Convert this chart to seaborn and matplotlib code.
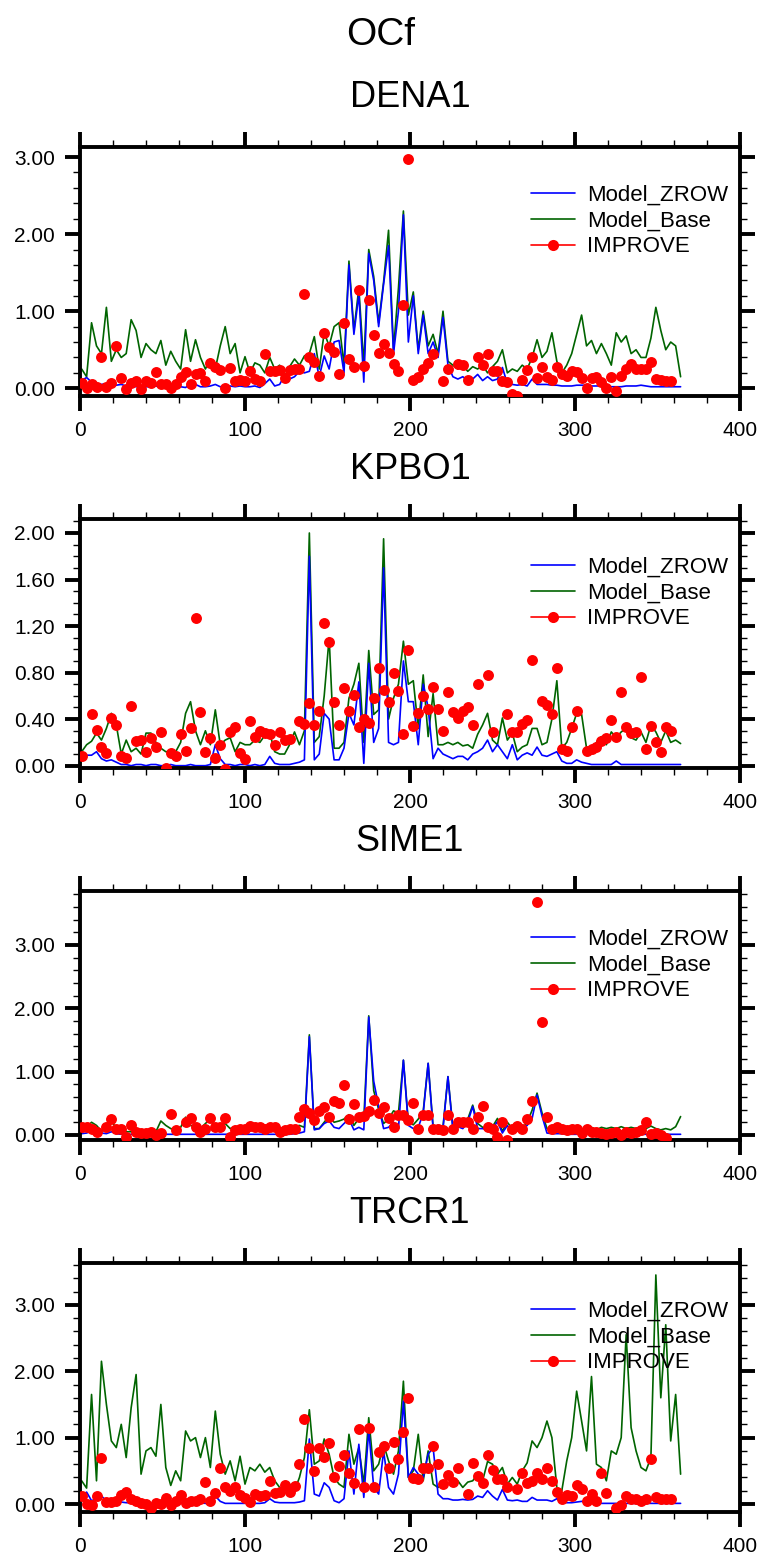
import numpy as np
import matplotlib
matplotlib.use("Agg")
import matplotlib.pyplot as plt
import seaborn as sns
from matplotlib.lines import Line2D
from matplotlib.ticker import MultipleLocator, FormatStrFormatter

# day grid (every 3rd day of the year)
days = np.arange(1, 366, 3)
nan = np.nan

sites = ["DENA1", "KPBO1", "SIME1", "TRCR1"]

dena_base = [
    0.25, 0.15, 0.85, 0.55, 0.45, 1.05, 0.35, 0.50, 0.40, 0.45,
    0.89, 0.75, 0.40, 0.58, 0.50, 0.45, 0.62, 0.30, 0.48, 0.35,
    0.25, 0.76, 0.35, 0.63, 0.40, 0.25, 0.38, 0.25, 0.55, 0.80,
    0.45, 0.58, 0.20, 0.41, 0.20, 0.33, 0.30, 0.20, 0.40, 0.25,
    0.30, 0.15, 0.28, 0.38, 0.30, 0.42, 0.45, 0.67, 0.25, 0.72,
    0.55, 0.80, 0.85, 0.30, 1.65, 0.75, 1.30, 0.30, 1.80, 1.45,
    0.85, 1.38, 2.05, 0.50, 1.30, 2.30, 0.95, 1.25, 0.50, 1.00,
    0.55, 0.70, 0.45, 1.00, 0.35, 0.30, 0.25, 0.30, 0.22, 0.28,
    0.25, 0.30, 0.20, 0.28, 0.35, 0.50, 0.20, 0.25, 0.22, 0.30,
    0.25, 0.40, 0.63, 0.40, 0.48, 0.72, 0.35, 0.20, 0.30, 0.45,
    0.70, 0.95, 0.55, 0.62, 0.45, 0.58, 0.45, 0.30, 0.72, 0.60,
    0.68, 0.45, 0.50, 0.40, 0.40, 0.65, 1.05, 0.75, 0.50, 0.60,
    0.55, 0.15]
dena_zrow = [
    0.10, 0.14, 0.08, 0.06, 0.05, 0.06, 0.04, 0.04, 0.05, 0.03,
    0.03, 0.02, 0.03, 0.02, 0.02, 0.03, 0.02, 0.01, 0.02, 0.01,
    0.02, 0.01, 0.06, 0.05, 0.02, 0.02, 0.03, 0.05, 0.02, 0.02,
    0.03, 0.02, 0.03, 0.02, 0.02, 0.03, 0.01, 0.06, 0.12, 0.03,
    0.05, 0.17, 0.12, 0.15, 0.22, 0.20, 0.22, 0.45, 0.15, 0.42,
    0.25, 0.60, 0.62, 0.20, 1.60, 0.70, 1.22, 0.08, 1.75, 1.40,
    0.80, 1.35, 1.85, 0.45, 1.00, 2.25, 0.60, 1.20, 0.45, 0.95,
    0.45, 0.60, 0.40, 0.92, 0.30, 0.15, 0.12, 0.15, 0.10, 0.12,
    0.18, 0.10, 0.15, 0.10, 0.12, 0.27, 0.06, 0.05, 0.04, 0.05,
    0.03, 0.12, 0.05, 0.05, 0.05, 0.04, 0.04, 0.03, 0.03, 0.03,
    0.04, 0.04, 0.04, 0.03, 0.03, 0.03, 0.02, 0.02, 0.02, 0.02,
    0.03, 0.03, 0.03, 0.04, 0.03, 0.02, 0.02, 0.02, 0.02, 0.02,
    0.02, 0.02]
dena_obs = [
    0.07, 0.01, 0.05, 0.02, 0.41, 0.02, 0.07, 0.55, 0.13, -0.01,
    0.07, 0.09, -0.01, 0.10, 0.07, 0.21, 0.05, 0.05, 0.01, 0.05,
    0.14, 0.21, 0.05, 0.19, 0.20, 0.09, 0.33, 0.27, 0.24, 0.01,
    0.26, 0.09, 0.11, 0.09, 0.22, 0.12, 0.10, 0.45, 0.23, 0.23,
    0.24, 0.13, 0.24, 0.25, 0.25, 1.22, 0.41, 0.34, 0.16, 0.72,
    0.53, 0.47, 0.19, 0.85, 0.38, 0.28, 1.28, 0.29, 1.14, 0.69,
    0.46, 0.57, 0.46, 0.31, 0.23, 1.08, 2.98, 0.11, 0.15, 0.25,
    0.33, 0.45, nan, 0.10, 0.25, nan, 0.31, 0.30, 0.11, nan,
    0.41, 0.30, 0.45, 0.23, 0.23, 0.09, 0.08, -0.08, -0.10, 0.11,
    0.24, 0.41, 0.13, 0.28, 0.14, 0.11, 0.27, 0.18, 0.16, 0.23,
    0.21, 0.13, 0.01, 0.13, 0.14, 0.08, 0.01, 0.14, -0.04, 0.16,
    0.25, 0.31, 0.25, 0.25, 0.25, 0.34, 0.12, 0.11, 0.10, 0.09,
    nan, nan]

kpbo_base = [
    0.12, 0.18, 0.21, 0.28, 0.22, 0.32, 0.45, 0.35, 0.10, 0.22,
    0.12, 0.15, 0.10, 0.28, 0.28, 0.20, 0.15, 0.12, 0.12, 0.12,
    0.20, 0.45, 0.55, 0.30, 0.18, 0.30, 0.18, 0.48, 0.18, 0.22,
    0.24, 0.12, 0.20, 0.18, 0.18, 0.22, 0.20, 0.26, 0.28, 0.12,
    0.10, 0.10, 0.18, 0.29, 0.18, 0.30, 2.00, 0.20, 0.25, 0.60,
    1.10, 0.15, 0.15, 0.20, 0.58, 0.70, 0.88, 0.20, 0.99, 0.44,
    0.48, 1.95, 0.40, 0.58, 0.70, 1.07, 0.70, 0.73, 0.32, 0.78,
    0.25, 0.62, 0.18, 0.18, 0.20, 0.18, 0.20, 0.17, 0.18, 0.15,
    0.27, 0.35, 0.45, 0.22, 0.18, 0.41, 0.22, 0.28, 0.12, 0.16,
    0.18, 0.32, 0.32, 0.18, 0.20, 0.40, 0.73, 0.15, 0.20, 0.32,
    0.45, 0.44, 0.15, 0.15, 0.20, 0.25, 0.18, 0.29, 0.24, 0.29,
    0.32, 0.24, 0.22, 0.29, 0.20, 0.35, 0.29, 0.20, 0.30, 0.20,
    0.22, 0.19]
kpbo_zrow = [
    0.05, 0.09, 0.09, 0.12, 0.06, 0.04, 0.05, 0.03, 0.01, 0.01,
    0.00, 0.01, 0.01, 0.00, 0.01, 0.01, 0.00, 0.00, 0.01, 0.00,
    0.00, 0.00, 0.01, 0.00, 0.00, 0.00, 0.01, 0.18, 0.06, 0.01,
    0.01, 0.00, 0.01, 0.01, 0.00, 0.01, 0.00, 0.01, 0.08, 0.02,
    0.01, 0.01, 0.01, 0.02, 0.03, 0.05, 1.80, 0.05, 0.10, 0.45,
    0.40, 0.05, 0.05, 0.15, 0.45, 0.35, 0.72, 0.02, 0.88, 0.20,
    0.32, 1.70, 0.20, 0.18, 0.20, 0.90, 0.55, 0.55, 0.18, 0.70,
    0.50, 0.06, 0.15, 0.10, 0.08, 0.06, 0.08, 0.08, 0.05, 0.10,
    0.12, 0.15, 0.22, 0.12, 0.18, 0.12, 0.06, 0.18, 0.05, 0.09,
    0.11, 0.09, 0.16, 0.09, 0.08, 0.10, 0.12, 0.04, 0.02, 0.02,
    0.05, 0.03, 0.02, 0.01, 0.01, 0.01, 0.01, 0.01, 0.04, 0.01,
    0.01, 0.01, 0.01, 0.01, 0.01, 0.01, 0.01, 0.01, 0.01, 0.01,
    0.01, 0.01]
kpbo_obs = [
    0.08, nan, 0.44, 0.31, 0.16, 0.11, 0.41, 0.35, 0.08, 0.07,
    0.51, 0.21, 0.22, 0.12, 0.24, 0.16, 0.29, -0.02, 0.11, 0.08,
    0.27, 0.13, 0.32, 1.27, 0.46, 0.12, 0.24, 0.07, 0.18, -0.03,
    0.29, 0.33, 0.11, 0.06, 0.38, 0.25, 0.30, 0.28, 0.27, 0.18,
    0.29, 0.22, 0.23, nan, 0.38, 0.36, 0.54, 0.35, 0.47, 1.23,
    1.06, 0.55, 0.35, 0.67, 0.47, 0.61, 0.33, 0.40, 0.37, 0.58,
    0.84, 0.65, 0.55, 0.80, 0.64, 0.27, 0.99, 0.34, 0.45, 0.60,
    0.49, 0.68, 0.49, 0.30, 0.63, 0.46, 0.41, 0.47, 0.50, 0.35,
    0.70, nan, 0.78, 0.29, nan, nan, 0.44, 0.29, 0.29, 0.36,
    0.39, 0.91, nan, 0.56, 0.52, 0.44, 0.84, 0.14, 0.13, 0.33,
    0.47, nan, 0.13, 0.14, 0.16, 0.21, 0.24, 0.39, 0.25, 0.63,
    0.33, 0.28, 0.29, 0.76, 0.14, 0.34, 0.20, 0.12, 0.33, 0.30,
    nan, nan]

sime_base = [
    0.05, 0.12, 0.20, 0.15, 0.06, 0.10, 0.25, 0.08, 0.06, 0.05,
    0.05, 0.05, 0.03, 0.05, 0.10, 0.05, 0.22, 0.15, 0.10, 0.08,
    0.12, 0.28, 0.15, 0.12, 0.10, 0.18, 0.25, 0.12, 0.15, 0.18,
    0.10, 0.13, 0.12, 0.10, 0.15, 0.13, 0.10, 0.12, 0.13, 0.08,
    0.03, 0.05, 0.10, 0.13, 0.15, 0.12, 1.58, 0.10, 0.10, 0.20,
    0.30, 0.20, 0.22, 0.25, 0.32, 0.15, 0.26, 0.25, 1.88, 0.70,
    0.40, 0.18, 0.25, 0.38, 0.35, 1.18, 0.20, 0.16, 0.25, 0.37,
    1.13, 0.13, 0.15, 0.13, 0.92, 0.12, 0.22, 0.15, 0.25, 0.47,
    0.18, 0.12, 0.10, 0.13, 0.26, 0.06, 0.20, 0.10, 0.16, 0.10,
    0.20, 0.39, 0.66, 0.35, 0.10, 0.10, 0.12, 0.10, 0.08, 0.09,
    0.11, 0.08, 0.10, 0.12, 0.08, 0.12, 0.10, 0.12, 0.10, 0.13,
    0.10, 0.12, 0.10, 0.13, 0.10, 0.14, 0.10, 0.08, 0.10, 0.08,
    0.13, 0.29]
sime_zrow = [
    0.02, 0.03, 0.06, 0.10, 0.03, 0.02, 0.05, 0.02, 0.01, 0.01,
    0.01, 0.01, 0.01, 0.01, 0.01, 0.01, 0.01, 0.01, 0.01, 0.01,
    0.01, 0.01, 0.01, 0.01, 0.01, 0.01, 0.01, 0.01, 0.01, 0.01,
    0.01, 0.01, 0.01, 0.01, 0.01, 0.01, 0.01, 0.01, 0.01, 0.01,
    0.01, 0.01, 0.01, 0.02, 0.03, 0.05, 1.55, 0.08, 0.10, 0.18,
    0.22, 0.12, 0.10, 0.18, 0.25, 0.08, 0.12, 0.08, 1.86, 0.85,
    0.45, 0.10, 0.12, 0.20, 0.10, 1.18, 0.15, 0.10, 0.12, 0.34,
    1.13, 0.10, 0.08, 0.10, 0.92, 0.08, 0.13, 0.10, 0.20, 0.45,
    0.10, 0.10, 0.08, 0.10, 0.21, 0.03, 0.15, 0.03, 0.08, 0.10,
    0.15, 0.26, 0.63, 0.30, 0.03, 0.02, 0.02, 0.02, 0.01, 0.01,
    0.01, 0.01, 0.01, 0.01, 0.01, 0.01, 0.01, 0.01, 0.01, 0.01,
    0.01, 0.01, 0.01, 0.01, 0.01, 0.01, 0.01, 0.01, 0.01, 0.01,
    0.01, 0.01]
sime_obs = [
    0.13, 0.12, 0.10, 0.05, nan, 0.12, 0.25, 0.10, 0.10, -0.03,
    0.16, 0.05, 0.03, 0.03, 0.05, 0.00, 0.03, nan, 0.33, 0.07,
    nan, 0.20, 0.27, 0.13, 0.05, 0.09, 0.27, 0.13, 0.13, 0.26,
    -0.03, 0.08, 0.10, 0.10, 0.14, 0.13, 0.13, 0.10, 0.13, 0.12,
    0.05, 0.08, 0.09, 0.10, 0.28, 0.41, 0.34, 0.24, 0.38, 0.44,
    0.28, 0.53, 0.50, 0.79, 0.25, 0.49, 0.28, 0.30, 0.37, 0.55,
    0.34, 0.44, 0.26, 0.13, 0.31, 0.31, 0.24, 0.50, 0.09, 0.31,
    0.31, 0.10, 0.10, 0.08, 0.31, 0.09, 0.21, 0.21, 0.21, 0.10,
    0.28, 0.46, 0.13, 0.10, -0.03, 0.21, -0.08, 0.10, 0.14, 0.09,
    0.25, 0.53, 3.68, 1.79, 0.29, 0.10, 0.12, 0.10, 0.08, 0.09,
    0.09, 0.03, 0.10, 0.05, 0.04, 0.03, 0.02, 0.03, 0.04, 0.00,
    0.05, 0.03, 0.05, 0.07, 0.21, 0.02, 0.03, 0.00, -0.05, nan,
    nan, nan]

trcr_base = [
    0.35, 0.24, 1.65, 0.35, 2.15, 1.50, 0.95, 0.85, 1.20, 0.70,
    1.45, 1.95, 0.45, 0.80, 0.85, 0.72, 1.50, 0.55, 0.28, 0.50,
    0.35, 1.10, 0.95, 1.00, 0.70, 1.00, 0.55, 1.40, 0.75, 0.45,
    0.65, 0.35, 0.72, 0.30, 0.55, 0.50, 0.60, 0.48, 0.55, 0.35,
    0.25, 0.20, 0.30, 0.20, 0.40, 0.70, 1.42, 0.60, 0.65, 0.98,
    0.75, 0.40, 0.30, 0.25, 1.05, 0.60, 0.85, 0.30, 1.30, 0.50,
    0.60, 0.90, 0.65, 0.45, 0.80, 1.85, 0.40, 0.50, 1.05, 0.35,
    0.80, 0.30, 0.25, 0.30, 0.40, 0.38, 0.35, 0.25, 0.33, 0.35,
    0.45, 0.35, 0.64, 0.60, 0.45, 0.55, 0.30, 0.40, 0.30, 0.50,
    0.62, 0.95, 0.85, 1.00, 1.25, 1.00, 0.25, 0.20, 0.65, 1.00,
    1.70, 1.25, 0.80, 1.92, 0.60, 0.55, 0.35, 0.80, 0.75, 1.00,
    2.55, 1.15, 0.80, 0.55, 0.50, 0.70, 3.45, 1.60, 2.70, 0.95,
    1.65, 0.45]
trcr_zrow = [
    0.08, 0.18, 0.05, 0.08, 0.12, 0.05, 0.06, 0.05, 0.03, 0.02,
    0.02, 0.01, 0.01, 0.01, 0.01, 0.01, 0.01, 0.01, 0.01, 0.01,
    0.02, 0.02, 0.03, 0.03, 0.02, 0.01, 0.02, 0.12, 0.04, 0.01,
    0.01, 0.01, 0.01, 0.01, 0.01, 0.01, 0.01, 0.02, 0.08, 0.03,
    0.02, 0.02, 0.02, 0.02, 0.03, 0.05, 0.98, 0.15, 0.12, 0.32,
    0.25, 0.05, 0.02, 0.08, 0.80, 0.15, 0.90, 0.10, 1.12, 0.25,
    0.15, 0.80, 0.25, 0.15, 0.45, 1.55, 0.40, 0.55, 0.45, 0.40,
    0.75, 0.85, 0.15, 0.08, 0.08, 0.06, 0.06, 0.07, 0.06, 0.07,
    0.12, 0.10, 0.20, 0.12, 0.06, 0.22, 0.06, 0.05, 0.06, 0.04,
    0.04, 0.10, 0.06, 0.06, 0.06, 0.04, 0.08, 0.03, 0.02, 0.02,
    0.03, 0.04, 0.03, 0.03, 0.02, 0.01, 0.01, 0.01, 0.01, 0.01,
    0.01, 0.01, 0.01, 0.01, 0.01, 0.01, 0.01, 0.01, 0.01, 0.01,
    0.01, 0.01]
trcr_obs = [
    0.12, 0.00, -0.02, 0.12, 0.69, 0.03, 0.03, 0.05, 0.14, 0.18,
    0.07, 0.05, 0.02, 0.00, -0.06, 0.02, 0.00, 0.09, -0.01, 0.04,
    0.13, 0.02, 0.04, 0.04, 0.07, 0.33, 0.04, 0.17, 0.55, 0.25,
    0.19, 0.25, 0.13, 0.09, 0.03, 0.15, 0.12, 0.13, 0.35, 0.17,
    0.18, 0.29, 0.18, 0.27, 0.61, 1.28, 0.85, 0.50, 0.85, 0.71,
    0.92, 0.40, 0.58, 0.74, 0.47, 0.32, 1.13, 0.26, 1.14, 0.26,
    0.78, 0.87, 0.54, 0.93, 0.68, 1.08, 1.59, 0.39, 0.38, 0.54,
    0.54, 0.87, 0.60, 0.30, 0.44, 0.33, 0.54, nan, 0.15, 0.62,
    0.42, 0.32, 0.74, 0.52, 0.38, 0.38, 0.25, nan, 0.22, 0.47,
    0.32, 0.35, 0.47, 0.37, 0.54, 0.34, 0.18, 0.07, 0.14, 0.12,
    0.28, 0.23, 0.04, 0.15, 0.05, 0.47, 0.17, nan, -0.06, -0.01,
    0.12, 0.08, 0.07, 0.05, 0.07, 0.68, 0.10, 0.08, 0.07, 0.07,
    nan, nan]

zrow_data = [dena_zrow, kpbo_zrow, sime_zrow, trcr_zrow]
base_data = [dena_base, kpbo_base, sime_base, trcr_base]
obs_data = [dena_obs, kpbo_obs, sime_obs, trcr_obs]

# axis settings per panel: (ymin, ymax) and (major step, minor step)
y_ranges = [(-0.10, 3.13), (-0.02, 2.12), (-0.08, 3.85), (-0.12, 3.63)]
y_steps = [(1.0, 0.2), (0.4, 0.1), (1.0, 0.2), (1.0, 0.2)]

sns.set_style("ticks")
plt.rcParams["font.family"] = ["Liberation Sans", "DejaVu Sans"]
plt.rcParams["text.color"] = "black"
plt.rcParams["xtick.color"] = "black"
plt.rcParams["ytick.color"] = "black"
plt.rcParams["xtick.labelcolor"] = "black"
plt.rcParams["ytick.labelcolor"] = "black"

W, H = 763, 1557
fig = plt.figure(figsize=(W / 100, H / 100), dpi=100)
fig.patch.set_facecolor("white")

fig.text(381 / W, 1 - 45 / H, "OCf", ha="center", va="baseline",
         fontsize=28, color="black")

for k, site in enumerate(sites):
    top = 147 + 372 * k
    bot = 396 + 372 * k
    ax = fig.add_axes([80 / W, 1 - bot / H, 660 / W, (bot - top) / H])

    sns.lineplot(x=days, y=base_data[k], ax=ax, color="#006400", lw=1.2, estimator=None)
    sns.lineplot(x=days, y=zrow_data[k], ax=ax, color="#0000ff", lw=1.2, estimator=None)
    sns.scatterplot(x=days, y=obs_data[k], ax=ax, color="#ff0000", s=62,
                    linewidth=0, zorder=5)

    ax.set_xlim(0, 400)
    ax.set_ylim(*y_ranges[k])
    ax.xaxis.set_major_locator(MultipleLocator(100))
    ax.xaxis.set_minor_locator(MultipleLocator(20))
    ax.yaxis.set_major_locator(MultipleLocator(y_steps[k][0]))
    ax.yaxis.set_minor_locator(MultipleLocator(y_steps[k][1]))
    ax.yaxis.set_major_formatter(FormatStrFormatter("%.2f"))
    ax.xaxis.set_major_formatter(FormatStrFormatter("%d"))

    for sp in ax.spines.values():
        sp.set_visible(True)
        sp.set_linewidth(2.8)
        sp.set_color("black")
    ax.tick_params(which="both", direction="out", top=True, right=True,
                   color="black", labelcolor="black")
    ax.tick_params(which="major", length=11, width=2.8, labelsize=15, pad=7)
    ax.tick_params(which="minor", length=5, width=1.0)
    ax.set_xlabel("")
    ax.set_ylabel("")

    fig.text(410 / W, 1 - (top - 40) / H, site, ha="center", va="baseline",
             fontsize=26, color="black")

    handles = [
        Line2D([], [], color="#0000ff", lw=1.2),
        Line2D([], [], color="#006400", lw=1.2),
        Line2D([], [], color="#ff0000", lw=1.2, marker="o", markersize=8,
               markeredgewidth=0),
    ]
    leg = ax.legend(handles, ["Model_ZROW", "Model_Base", "IMPROVE"],
                    loc="center left", bbox_to_anchor=(0.683, 0.703),
                    frameon=False, fontsize=16, handlelength=2.0,
                    handletextpad=0.55, labelspacing=0.22, borderpad=0,
                    borderaxespad=0)
    for t in leg.get_texts():
        t.set_color("black")

fig.savefig("out.png", dpi=100, facecolor="white")
